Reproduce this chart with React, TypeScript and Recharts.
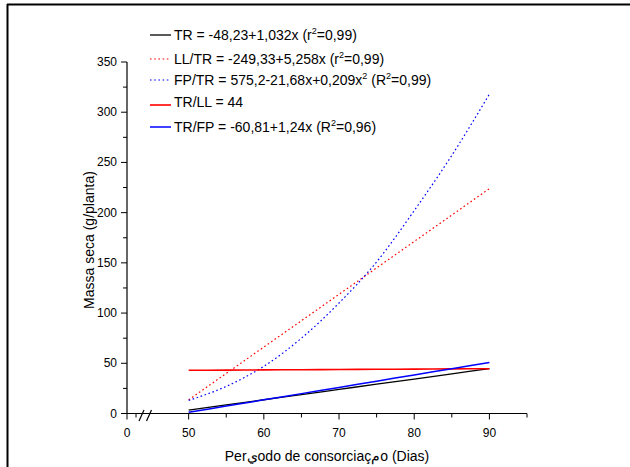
import React from 'react';
import { LineChart, Line, XAxis, YAxis, Customized } from 'recharts';

// Data
const days = [50, 55, 60, 65, 70, 75, 80, 85, 90];
const trValues = [3.4, 8.5, 13.7, 18.8, 24.0, 29.2, 34.3, 39.5, 44.7];
const llTrValues = [13.6, 39.9, 66.2, 92.4, 118.7, 145.0, 171.3, 197.6, 223.9];
const fpTrValues = [13, 27, 47, 75, 110, 151, 202, 257, 318];
const trLlValues = [43, 43.2, 43.4, 43.6, 43.8, 44.0, 44.2, 44.4, 44.6];
const trFpValues = [1.2, 7.4, 13.6, 19.8, 26.0, 32.2, 38.4, 44.6, 50.8];

// Axis ticks (x axis is broken: the "0" tick sits just left of the break)
const X_ZERO = 41.8;
const xMajorTicks = [X_ZERO, 50, 60, 70, 80, 90];
const xMinorTicks = [43, 55, 65, 75, 85, 95];
const yMajorTicks = [0, 50, 100, 150, 200, 250, 300, 350];
const yMinorTicks = [25, 75, 125, 175, 225, 275, 325];

const seriesKeys = ['tr', 'llTr', 'fpTr', 'trLl', 'trFp'];
const legendLabels = [
  'TR = -48,23+1,032x (r^2=0,99)',
  'LL/TR = -249,33+5,258x (r^2=0,99)',
  'FP/TR = 575,2-21,68x+0,209x^2 (R^2=0,99)',
  'TR/LL = 44',
  'TR/FP = -60,81+1,24x (R^2=0,96)',
];
const xAxisTitle = 'Perيodo de consorciaçمo (Dias)';
const yAxisTitle = 'Massa seca (g/planta)';

const data = days.map((d, i) => ({
  day: d,
  tr: trValues[i],
  llTr: llTrValues[i],
  fpTr: fpTrValues[i],
  trLl: trLlValues[i],
  trFp: trFpValues[i],
}));

const FONT = '"Liberation Sans", Arial, sans-serif';

const styles: Record<string, { stroke: string; width: number; dash?: string }> = {
  tr: { stroke: '#000000', width: 1.3 },
  llTr: { stroke: '#ff0000', width: 1.2, dash: '1.6 2.6' },
  fpTr: { stroke: '#0000ff', width: 1.2, dash: '1.6 2.6' },
  trLl: { stroke: '#ff0000', width: 1.6 },
  trFp: { stroke: '#0000ff', width: 1.5 },
};

const XTick = (props: any) => {
  const { x, y, payload } = props;
  const v = payload.value;
  const major = xMajorTicks.includes(v);
  return (
    <g>
      <line x1={x} x2={x} y1={y} y2={y + (major ? 6 : 4)} stroke="#000" strokeWidth={1} />
      {major && (
        <text x={x} y={y + 23} textAnchor="middle" fontSize={12} fill="#000" fontFamily={FONT}>
          {v === X_ZERO ? '0' : String(v)}
        </text>
      )}
    </g>
  );
};

const YTick = (props: any) => {
  const { x, y, payload } = props;
  const v = payload.value;
  const major = yMajorTicks.includes(v);
  return (
    <g>
      <line x1={x - (major ? 6 : 4)} x2={x} y1={y} y2={y} stroke="#000" strokeWidth={1} />
      {major && (
        <text x={x - 10} y={y + 4} textAnchor="end" fontSize={12} fill="#000" fontFamily={FONT}>
          {String(v)}
        </text>
      )}
    </g>
  );
};

const renderLabel = (s: string) => {
  const parts = s.split('^2');
  const out: any[] = [];
  parts.forEach((p, i) => {
    out.push(
      <tspan key={'p' + i} fontSize={14} dy={i > 0 ? 6 : 0}>
        {p}
      </tspan>
    );
    if (i < parts.length - 1) {
      out.push(
        <tspan key={'s' + i} fontSize={9} dy={-6}>
          2
        </tspan>
      );
    }
  });
  return out;
};

const legendLineY = [35, 59, 80, 105, 127];
const legendTextY = [40, 64, 85, 107, 132];

const Overlay = () => (
  <g>
    {/* frame */}
    <line x1={7} x2={630} y1={4.5} y2={4.5} stroke="#000" strokeWidth={2} />
    <line x1={7.5} x2={7.5} y1={4} y2={467} stroke="#000" strokeWidth={2} />
    {/* axis break */}
    <rect x={143} y={411} width={4.5} height={6} fill="#fff" />
    <line x1={139} x2={144} y1={421} y2={410} stroke="#000" strokeWidth={1.2} />
    <line x1={146.5} x2={151.5} y1={421} y2={410} stroke="#000" strokeWidth={1.2} />
    {/* axis titles */}
    <text x={327} y={461} textAnchor="middle" fontSize={14} fill="#000" fontFamily={FONT}>
      {xAxisTitle}
    </text>
    <text
      x={94}
      y={240}
      textAnchor="middle"
      fontSize={14}
      fill="#000"
      fontFamily={FONT}
      transform="rotate(-90, 94, 240)"
    >
      {yAxisTitle}
    </text>
    {/* legend */}
    {seriesKeys.map((k, i) => {
      const st = styles[k];
      return (
        <g key={k}>
          <line
            x1={150}
            x2={171}
            y1={legendLineY[i]}
            y2={legendLineY[i]}
            stroke={st.stroke}
            strokeWidth={st.width}
            strokeDasharray={st.dash}
          />
          <text x={174} y={legendTextY[i]} fill="#000" fontFamily={FONT} fontSize={14}>
            {renderLabel(legendLabels[i])}
          </text>
        </g>
      );
    })}
  </g>
);

export default function App() {
  return (
    <div style={{ position: 'absolute', left: 0, top: 0, background: '#fff' }}>
      <LineChart
        width={630}
        height={467}
        data={data}
        margin={{ top: 62, right: 103, bottom: 0, left: 0 }}
        style={{ fontFamily: FONT }}
      >
        <XAxis
          dataKey="day"
          type="number"
          domain={[X_ZERO, 95]}
          allowDataOverflow
          ticks={[...xMajorTicks, ...xMinorTicks].sort((a, b) => a - b)}
          interval={0}
          tickSize={0}
          tickMargin={0}
          tickLine={false}
          tick={<XTick />}
          axisLine={{ stroke: '#000', strokeWidth: 1.2 }}
          height={53.5}
        />
        <YAxis
          type="number"
          domain={[0, 350]}
          ticks={[...yMajorTicks, ...yMinorTicks].sort((a, b) => a - b)}
          interval={0}
          tickSize={0}
          tickMargin={0}
          tickLine={false}
          tick={<YTick />}
          axisLine={{ stroke: '#000', strokeWidth: 1.2 }}
          width={127}
        />
        {seriesKeys.map((k) => (
          <Line
            key={k}
            dataKey={k}
            type="monotone"
            stroke={styles[k].stroke}
            strokeWidth={styles[k].width}
            strokeDasharray={styles[k].dash}
            dot={false}
            activeDot={false}
            isAnimationActive={false}
          />
        ))}
        <Customized component={<Overlay />} />
      </LineChart>
    </div>
  );
}
